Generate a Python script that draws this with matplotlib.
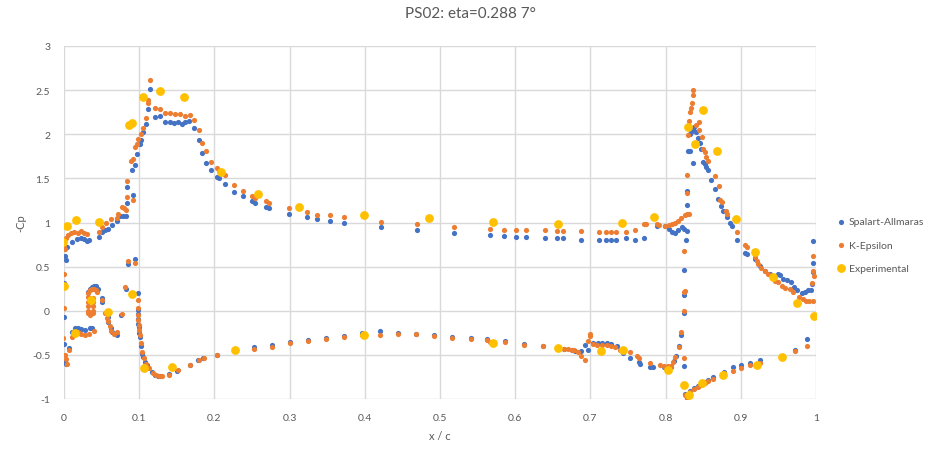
import matplotlib
matplotlib.use("Agg")
import matplotlib.pyplot as plt

plt.rcParams['font.family'] = ['Lato', 'DejaVu Sans']

title = "PS02: eta=0.288 7\u00b0"
x_label = "x / c"
y_label = "-Cp"
series_names = ["Spalart-Allmaras", "K-Epsilon", "Experimental"]
x_ticks = [0, 0.1, 0.2, 0.3, 0.4, 0.5, 0.6, 0.7, 0.8, 0.9, 1]
x_tick_labels = ["0", "0.1", "0.2", "0.3", "0.4", "0.5", "0.6", "0.7", "0.8", "0.9", "1"]
y_ticks = [-1, -0.5, 0, 0.5, 1, 1.5, 2, 2.5, 3]
y_tick_labels = ["-1", "-0.5", "0", "0.5", "1", "1.5", "2", "2.5", "3"]

# Spalart-Allmaras (blue)
sa_x = [0.001, 0.002, 0.004, 0.010, 0.017, 0.022, 0.027, 0.030, 0.033,
        0.046, 0.050, 0.055, 0.059, 0.064, 0.070, 0.074, 0.079, 0.082, 0.084, 0.084, 0.092,
        0.091, 0.094, 0.097, 0.101, 0.103, 0.105, 0.109, 0.112, 0.114, 0.121, 0.128, 0.134,
        0.141, 0.146, 0.152, 0.157, 0.161, 0.166, 0.173, 0.179, 0.184, 0.189, 0.196, 0.203,
        0.206, 0.214, 0.226, 0.238, 0.250, 0.254, 0.268, 0.272, 0.299, 0.323, 0.336, 0.354,
        0.373, 0.421, 0.469, 0.518, 0.567, 0.585, 0.601, 0.614, 0.640, 0.655, 0.663, 0.687,
        0.711, 0.721, 0.728, 0.734, 0.747, 0.759, 0.771, 0.789, 0.799, 0.804, 0.808, 0.813,
        0.817, 0.822, 0.825, 0.828, 0.827,
        0.828, 0.828, 0.830, 0.833, 0.836, 0.832, 0.834, 0.836, 0.838, 0.840, 0.843, 0.846,
        0.847, 0.850, 0.852, 0.854, 0.856, 0.860, 0.866, 0.870, 0.874, 0.876, 0.882, 0.886,
        0.888, 0.895, 0.906, 0.908, 0.919, 0.925, 0.932, 0.939, 0.946, 0.950, 0.952, 0.956,
        0.961, 0.967, 0.971, 0.975, 0.981, 0.985, 0.989, 0.993,
        0.996, 0.996, 0.996, 0.995,
        0.000, 0.000, 0.000, 0.001, 0.002, 0.007, 0.010, 0.015, 0.018, 0.023, 0.028, 0.034,
        0.037, 0.032, 0.034, 0.037, 0.040, 0.042, 0.045, 0.050, 0.051,
        0.056, 0.058, 0.059, 0.062, 0.064, 0.068, 0.071, 0.076, 0.082, 0.085, 0.095, 0.098,
        0.098, 0.099, 0.099, 0.099, 0.100, 0.100, 0.101, 0.102, 0.104, 0.105, 0.108, 0.110,
        0.117, 0.121, 0.125, 0.128, 0.140, 0.150, 0.167, 0.178, 0.185, 0.204, 0.252, 0.276,
        0.300, 0.325, 0.349, 0.373, 0.396, 0.420, 0.444, 0.468, 0.492, 0.516, 0.541, 0.562,
        0.586, 0.612, 0.637, 0.655, 0.665, 0.675, 0.680, 0.688, 0.693, 0.697, 0.703, 0.710,
        0.716, 0.722, 0.728, 0.735, 0.744, 0.753, 0.764, 0.766, 0.779, 0.783, 0.798, 0.803,
        0.807, 0.811, 0.814, 0.818, 0.820, 0.824, 0.824, 0.824, 0.824,
        0.826, 0.828, 0.833, 0.838, 0.843, 0.847, 0.852, 0.856, 0.863, 0.877, 0.890, 0.900,
        0.912, 0.925, 0.972, 0.988]
sa_y = [0.62, 0.58, 0.72, 0.78, 0.81, 0.83, 0.81, 0.79, 0.80,
        0.84, 0.89, 0.91, 0.93, 0.97, 1.02, 1.07, 1.07, 1.07, 1.22, 1.40, 1.31,
        1.59, 1.65, 1.78, 1.89, 1.94, 2.02, 2.12, 2.29, 2.51, 2.19, 2.21, 2.14,
        2.14, 2.13, 2.14, 2.12, 2.14, 2.15, 2.07, 1.93, 1.79, 1.67, 1.60, 1.52,
        1.50, 1.44, 1.35, 1.30, 1.24, 1.22, 1.18, 1.16, 1.10, 1.06, 1.04, 1.02,
        1.00, 0.95, 0.92, 0.885, 0.86, 0.85, 0.84, 0.84, 0.83, 0.82, 0.82, 0.805,
        0.805, 0.805, 0.805, 0.805, 0.82, 0.805, 0.83, 0.965, 0.96, 0.93, 0.89, 0.88,
        0.91, 0.95, 0.93, 0.90, 0.805,
        1.20, 1.36, 1.81, 1.81, 1.67, 2.00, 2.03, 2.05, 2.08, 2.03, 1.96, 1.90,
        1.83, 1.69, 1.66, 1.63, 1.59, 1.48, 1.38, 1.27, 1.19, 1.13, 1.06, 1.00,
        0.96, 0.805, 0.66, 0.64, 0.586, 0.51, 0.45, 0.42, 0.39, 0.42, 0.40, 0.36,
        0.345, 0.325, 0.27, 0.24, 0.20, 0.21, 0.23, 0.24,
        0.79, 0.54, 0.44, 0.30,
        0.32, -0.075, -0.38, -0.57, -0.60, -0.42, -0.24, -0.19, -0.20, -0.21, -0.22, -0.20,
        -0.19, 0.21, 0.25, 0.265, 0.28, 0.285, 0.25, 0.15, 0.10,
        -0.02, -0.075, -0.13, -0.19, -0.245, -0.265, -0.27, -0.05, 0.245, 0.53, 0.59, 0.20,
        0.01, -0.04, -0.09, -0.15, -0.185, -0.25, -0.30, -0.40, -0.49, -0.52, -0.585, -0.62,
        -0.69, -0.73, -0.74, -0.74, -0.72, -0.68, -0.61, -0.555, -0.535, -0.50, -0.415, -0.39,
        -0.35, -0.33, -0.31, -0.29, -0.255, -0.235, -0.25, -0.26, -0.275, -0.30, -0.305, -0.325,
        -0.345, -0.38, -0.40, -0.42, -0.43, -0.44, -0.455, -0.455, -0.385, -0.44, -0.37, -0.365,
        -0.365, -0.37, -0.38, -0.40, -0.48, -0.54, -0.585, -0.60, -0.64, -0.64, -0.64, -0.64,
        -0.64, -0.57, -0.51, -0.40, -0.27, -0.63, -0.02, 0.18, 0.46,
        -0.94, -0.99, -0.905, -0.88, -0.85, -0.83, -0.81, -0.79, -0.755, -0.69, -0.64, -0.62,
        -0.59, -0.56, -0.445, -0.32]

# K-Epsilon (orange)
ke_x = [0.001, 0.000, 0.002, 0.005, 0.009, 0.013, 0.018, 0.022, 0.027, 0.031,
        0.046, 0.050, 0.056, 0.063, 0.070, 0.072, 0.077, 0.080, 0.083, 0.084, 0.084, 0.092,
        0.089, 0.092, 0.094, 0.097, 0.099, 0.102, 0.105, 0.109, 0.112, 0.112, 0.115, 0.121,
        0.128, 0.134, 0.141, 0.147, 0.154, 0.161, 0.167, 0.173, 0.179, 0.184, 0.189, 0.196,
        0.203, 0.206, 0.214, 0.226, 0.238, 0.250, 0.254, 0.268, 0.272, 0.299, 0.323, 0.336,
        0.354, 0.373, 0.421, 0.469, 0.518, 0.567, 0.585, 0.601, 0.614, 0.640, 0.655, 0.663,
        0.687, 0.711, 0.721, 0.728, 0.734, 0.747, 0.759, 0.771, 0.774, 0.788, 0.791, 0.799,
        0.804, 0.808, 0.812, 0.817, 0.821, 0.826, 0.829, 0.831, 0.824,
        0.828, 0.828, 0.830, 0.831, 0.832, 0.834, 0.835, 0.836, 0.837, 0.840, 0.844, 0.845,
        0.848, 0.850, 0.852, 0.854, 0.856, 0.866, 0.871, 0.872, 0.875, 0.880, 0.882, 0.895,
        0.906, 0.908, 0.919, 0.921, 0.923, 0.927, 0.932, 0.936, 0.941, 0.946, 0.950, 0.955,
        0.959, 0.966, 0.970, 0.977, 0.983, 0.987, 0.991, 0.996,
        0.996, 0.996, 0.997, 0.995,
        0.000, 0.000, -0.001, 0.001, 0.002, 0.004, 0.007, 0.010, 0.018, 0.023, 0.028, 0.033,
        0.040, 0.032, 0.034, 0.037, 0.040, 0.042, 0.044, 0.0315, 0.0315, 0.0315, 0.0315,
        0.032, 0.035, 0.038, 0.039, 0.039, 0.039, 0.039,
        0.050, 0.055, 0.057, 0.059, 0.061, 0.063, 0.066, 0.071, 0.077, 0.081, 0.085, 0.095,
        0.098, 0.098, 0.099, 0.099, 0.100, 0.100, 0.101, 0.102, 0.104, 0.106, 0.109, 0.113,
        0.118, 0.122, 0.126, 0.130, 0.140, 0.151, 0.168, 0.180, 0.186, 0.204, 0.252, 0.276,
        0.300, 0.325, 0.349, 0.373, 0.396, 0.420, 0.444, 0.468, 0.492, 0.516, 0.541, 0.562,
        0.566, 0.586, 0.612, 0.637, 0.655, 0.665, 0.670, 0.675, 0.678, 0.683, 0.688, 0.693,
        0.697, 0.699, 0.699, 0.703, 0.709, 0.716, 0.722, 0.728, 0.733, 0.739, 0.752, 0.762,
        0.764, 0.779, 0.793, 0.798, 0.803, 0.807, 0.810, 0.813, 0.818, 0.820, 0.824, 0.824,
        0.824, 0.826,
        0.826, 0.828, 0.833, 0.838, 0.843, 0.847, 0.852, 0.856, 0.863, 0.877, 0.890, 0.900,
        0.912, 0.925, 0.972, 0.988]
ke_y = [0.70, 0.75, 0.82, 0.86, 0.88, 0.89, 0.88, 0.90, 0.88, 0.87,
        0.89, 0.95, 1.00, 1.04, 1.05, 1.10, 1.17, 1.16, 1.14, 1.47, 1.29, 1.25,
        1.70, 1.72, 1.85, 1.89, 1.95, 2.00, 2.07, 2.18, 2.35, 2.39, 2.62, 2.30,
        2.29, 2.24, 2.24, 2.23, 2.23, 2.21, 2.22, 2.16, 2.05, 1.90, 1.81, 1.68,
        1.62, 1.58, 1.54, 1.43, 1.36, 1.30, 1.28, 1.24, 1.22, 1.16, 1.12, 1.09,
        1.08, 1.06, 1.01, 0.98, 0.95, 0.93, 0.92, 0.92, 0.91, 0.91, 0.90, 0.90,
        0.90, 0.89, 0.89, 0.89, 0.89, 0.89, 0.91, 0.98, 0.98, 0.98, 0.97, 0.96,
        0.97, 0.98, 1.00, 1.02, 1.05, 1.08, 1.10, 1.10, 0.68,
        1.33, 1.54, 1.99, 2.15, 2.25, 2.30, 2.35, 2.45, 2.50, 2.10, 2.14, 2.05,
        1.97, 1.83, 1.80, 1.74, 1.70, 1.53, 1.41, 1.26, 1.23, 1.13, 1.10, 0.89,
        0.745, 0.72, 0.605, 0.567, 0.53, 0.49, 0.45, 0.42, 0.38, 0.34, 0.33, 0.28,
        0.26, 0.245, 0.21, 0.16, 0.13, 0.115, 0.11, 0.11,
        0.62, 0.45, 0.39, 0.32,
        0.42, 0.03, -0.31, -0.50, -0.55, -0.60, -0.45, -0.30, -0.24, -0.26, -0.27, -0.26,
        -0.23, 0.20, 0.23, 0.245, 0.25, 0.24, 0.21, 0.155, 0.10, 0.05, 0.0,
        -0.03, -0.045, -0.03, 0.0, 0.05, 0.10, 0.14,
        0.12, -0.03, -0.08, -0.12, -0.17, -0.23, -0.26, -0.245, -0.04, 0.27, 0.56, 0.54,
        0.12, 0.03, -0.05, -0.11, -0.16, -0.22, -0.27, -0.36, -0.47, -0.53, -0.60, -0.65,
        -0.70, -0.73, -0.745, -0.745, -0.73, -0.67, -0.61, -0.56, -0.54, -0.50, -0.43, -0.41,
        -0.36, -0.34, -0.32, -0.30, -0.27, -0.27, -0.26, -0.265, -0.285, -0.305, -0.315, -0.335,
        -0.35, -0.355, -0.385, -0.40, -0.42, -0.43, -0.435, -0.44, -0.45, -0.47, -0.51, -0.555,
        -0.34, -0.265, -0.29, -0.377, -0.385, -0.39, -0.39, -0.395, -0.415, -0.44, -0.47, -0.51,
        -0.535, -0.59, -0.61, -0.63, -0.63, -0.63, -0.585, -0.52, -0.415, -0.245, -0.54, 0.0,
        0.21, 0.22,
        -0.95, -1.00, -0.92, -0.89, -0.86, -0.84, -0.82, -0.80, -0.77, -0.71, -0.685, -0.645,
        -0.61, -0.59, -0.455, -0.40]

# Experimental (yellow)
exp_x = [-0.001, 0.0035, 0.016, 0.047, 0.086, 0.090, 0.105, 0.128, 0.160, 0.209, 0.258,
         0.313, 0.399, 0.485, 0.571, 0.657, 0.742, 0.785, 0.830, 0.839, 0.850, 0.869, 0.894,
         0.919, 0.943, 0.975, 0.998,
         0.000, 0.015, 0.036, 0.059, 0.091, 0.107, 0.143, 0.227, 0.399, 0.571, 0.657, 0.714,
         0.743, 0.803, 0.824, 0.831, 0.849, 0.876, 0.921, 0.955]
exp_y = [0.78, 0.96, 1.03, 1.01, 2.11, 2.13, 2.42, 2.49, 2.42, 1.57, 1.32,
         1.17, 1.09, 1.05, 1.01, 0.98, 0.99, 1.06, 2.08, 1.89, 2.28, 1.81, 1.04,
         0.665, 0.385, 0.085, -0.06,
         0.28, -0.25, 0.12, -0.01, 0.19, -0.65, -0.64, -0.44, -0.27, -0.36, -0.425, -0.46,
         -0.445, -0.67, -0.84, -0.95, -0.82, -0.73, -0.62, -0.52]

text_color = "#595959"
grid_color = "#D9D9D9"

fig = plt.figure(figsize=(9.4, 4.6), dpi=100)
ax = fig.add_axes([64 / 940, 1 - 400 / 460, (816 - 64) / 940, (400 - 47) / 460])

ax.scatter(sa_x, sa_y, s=14, color="#4472C4", linewidths=0, label=series_names[0], zorder=3)
ax.scatter(ke_x, ke_y, s=14, color="#ED7D31", linewidths=0, label=series_names[1], zorder=4)
ax.scatter(exp_x, exp_y, s=40, color="#FFC000", linewidths=0, label=series_names[2], zorder=5)

ax.set_xlim(0, 1)
ax.set_ylim(-1, 3)
ax.set_xticks(x_ticks)
ax.set_xticklabels(x_tick_labels)
ax.set_yticks(y_ticks)
ax.set_yticklabels(y_tick_labels)
ax.tick_params(length=0, labelsize=7.5, colors=text_color)
ax.tick_params(axis='x', pad=10)
ax.tick_params(axis='y', pad=10)
ax.grid(True, color=grid_color, linewidth=1.0, zorder=0)
ax.set_axisbelow(True)
for sp in ax.spines.values():
    sp.set_visible(False)

ax.set_xlabel(x_label, fontsize=8, color=text_color, labelpad=6)
ax.set_ylabel(y_label, fontsize=8, color=text_color, labelpad=4)
fig.text(0.5, 1 - 14 / 460, title, ha="center", va="center", fontsize=11, color=text_color)

leg = fig.legend(loc="center left", bbox_to_anchor=(832 / 940, 1 - 246 / 460),
                 frameon=False, fontsize=7.5, labelspacing=1.35, handletextpad=0.2,
                 handlelength=1.0, borderaxespad=0)
for t in leg.get_texts():
    t.set_color(text_color)

fig.savefig("out.png", dpi=100)
